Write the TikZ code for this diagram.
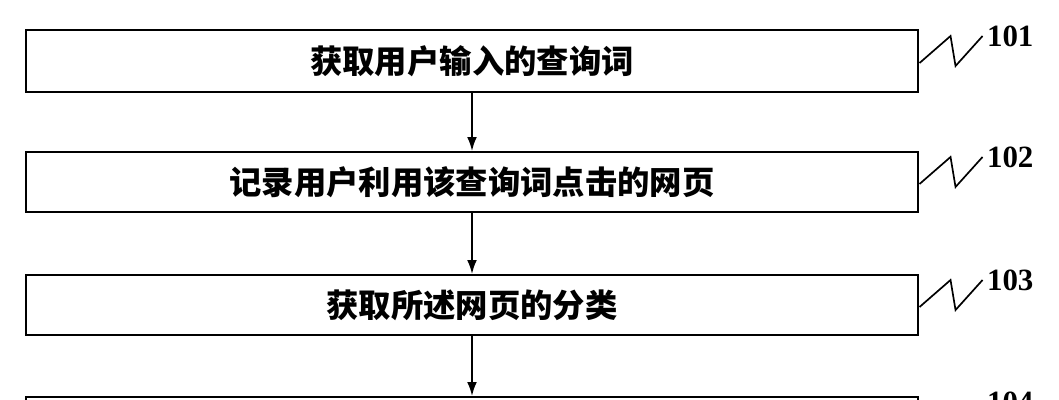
\documentclass[tikz,border=0pt]{standalone}
\usepackage{fontspec}
\newfontfamily\cjk{Noto Sans CJK SC}
\setmainfont{Liberation Serif}
\usetikzlibrary{positioning,arrows.meta}

\tikzstyle{stepbox} = [rectangle, draw=black, line width=1.3pt, minimum width=22.275cm, minimum height=1.5cm, inner sep=0pt, font=\cjk\bfseries\fontsize{23}{23}\selectfont]
\tikzstyle{tag} = [anchor=west, inner sep=0pt, font=\bfseries\fontsize{22}{22}\selectfont]

\begin{document}
\begin{tikzpicture}[x=0.025cm, y=-0.025cm, >={Latex[length=10pt,width=7pt]}]
    \useasboundingbox (0,0) rectangle (1059,400);
    \clip (0,0) rectangle (1059,400);

    % Schritte
    \node[stepbox, minimum height=1.55cm] (s1) at (472,61) {获取用户输入的查询词};
    \node[stepbox] (s2) at (472,182) {记录用户利用该查询词点击的网页};
    \node[stepbox] (s3) at (472,305) {获取所述网页的分类};
    \node[stepbox] (s4) at (472,427) {};

    % Pfeile
    \draw[->, line width=1.3pt] (s1) -- (s2);
    \draw[->, line width=1.3pt] (s2) -- (s3);
    \draw[->, line width=1.3pt] (s3) -- (s4);

    % Bezugszeichen
    \foreach \n/\y in {1/61, 2/182, 3/305, 4/427} {
        \draw[line width=1.2pt] (s\n.east |- 0,\y) ++(1,2) -- ++(31,-27) -- ++(5,30) -- ++(27,-30)
            coordinate (c\n);
        \node[tag] (t\n) at ([xshift=3]c\n) {10\n};
    }
\end{tikzpicture}
\end{document}
